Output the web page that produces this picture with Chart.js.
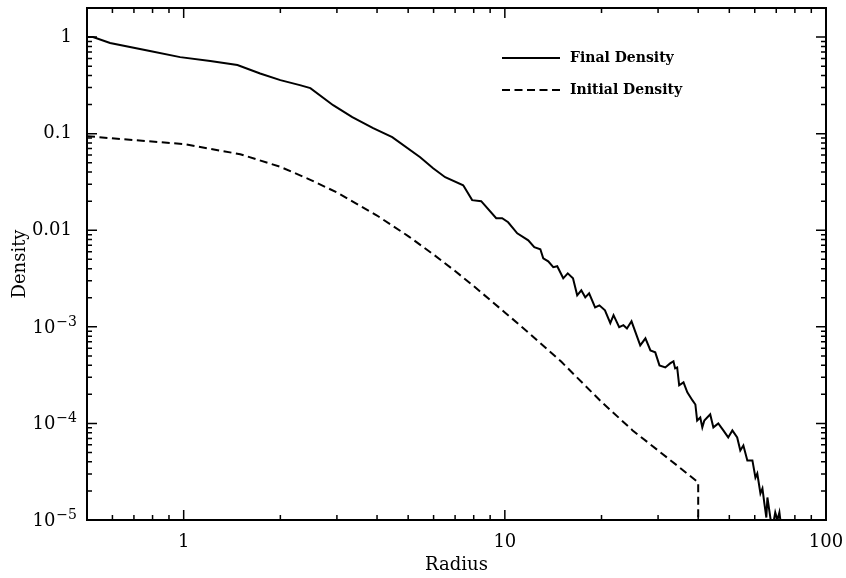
<!DOCTYPE html>
<html>
<head>
<meta charset="utf-8">
<script src="https://cdn.jsdelivr.net/npm/chart.js@4.4.1/dist/chart.umd.min.js"></script>
<style>
html,body{margin:0;padding:0;background:#fff;}
canvas{display:block;}
</style>
</head>
<body>
<canvas id="grafico" width="846" height="578"></canvas>
<script>
// ------------------- DADOS -------------------
const finalRadius = [0.5, 0.522, 0.59, 0.785, 0.975, 1.21, 1.47, 1.73, 2.0, 2.3,
  2.48, 2.92, 3.35, 3.89, 4.46, 5.45, 5.98, 6.52, 7.42, 7.91,
  8.44, 9.4, 9.81, 10.24, 10.93, 11.83, 12.35, 12.9, 13.17, 13.65,
  14.15, 14.56, 15.2, 15.7, 16.3, 16.8, 17.3, 17.8, 18.3, 19.1,
  19.7, 20.5, 21.3, 21.8, 22.7, 23.4, 24.0, 24.8, 26.4, 27.4,
  28.4, 29.4, 30.3, 31.6, 32.7, 33.5, 33.9, 34.4, 34.9, 36.0,
  37.0, 38.4, 39.2, 39.7, 40.6, 41.2, 41.8, 43.6, 44.6, 46.2,
  47.9, 49.6, 51.1, 52.9, 54.1, 55.3, 56.9, 59.0, 60.3, 61.1,
  62.5, 63.4, 64.3, 65.2, 65.7, 67.1, 68.0, 69.5, 70.6, 71.6, 72.7];
const finalDensity = [1.0, 1.0, 0.867, 0.716, 0.62, 0.564, 0.513, 0.42, 0.358, 0.318,
  0.296, 0.197, 0.148, 0.114, 0.092, 0.057, 0.0439, 0.0354, 0.0292, 0.0205,
  0.020, 0.0133, 0.0133, 0.0121, 0.0093, 0.00787, 0.00667, 0.00635, 0.00513, 0.00477,
  0.00414, 0.00424, 0.00318, 0.00358, 0.00318, 0.00212, 0.00239, 0.00202, 0.00222, 0.00159,
  0.00167, 0.00148, 0.00109, 0.00132, 9.9e-4, 1.04e-3, 9.6e-4, 1.14e-3, 6.43e-4, 7.6e-4,
  5.7e-4, 5.44e-4, 3.99e-4, 3.8e-4, 4.18e-4, 4.39e-4, 3.71e-4, 3.8e-4, 2.48e-4, 2.66e-4,
  2.1e-4, 1.73e-4, 1.57e-4, 1.07e-4, 1.15e-4, 9.1e-5, 1.07e-4, 1.24e-4, 9.1e-5, 1.0e-4,
  8.46e-5, 7.16e-5, 8.46e-5, 7.16e-5, 5.25e-5, 5.9e-5, 4.14e-5, 4.14e-5, 2.75e-5, 3.03e-5,
  1.88e-5, 2.12e-5, 1.48e-5, 1.06e-5, 1.71e-5, 1.06e-5, 8e-6, 1.2e-5, 1.0e-5, 1.2e-5, 8e-6];

const initialRadius = [0.5, 0.7, 1, 1.5, 2, 2.5, 3, 3.5, 4, 5, 6, 7, 8, 10, 12, 15, 20, 25, 30, 35, 40, 40];
const initialDensity = [0.0942, 0.0857, 0.078, 0.0613, 0.0453, 0.0329, 0.0246, 0.0183, 0.0142, 0.0087,
  0.0056, 0.00378, 0.00264, 0.00141, 8.4e-4, 4.34e-4, 1.67e-4, 8.46e-5, 5.25e-5, 3.5e-5, 2.45e-5, 1e-5];

const xTicks = [1, 10, 100];
const xTickLabels = ['1', '10', '100'];
const yTicks = [1e-5, 1e-4, 1e-3, 0.01, 0.1, 1];
const yTickLabels = ['10^\u22125', '10^\u22124', '10^\u22123', '0.01', '0.1', '1'];

const serif = '"DejaVu Serif", "Liberation Serif", serif';

function pontos(xs, ys){
  return xs.map((x, i) => ({x: x, y: ys[i]}));
}

// ------------------- MOLDURA, TICKS INTERNOS E RÓTULOS Y -------------------
const moldura = {
  id: 'moldura',
  afterDraw(chart){
    const {ctx, chartArea: a, scales: {x, y}} = chart;
    ctx.save();
    ctx.strokeStyle = '#000';
    ctx.lineWidth = 1.5;
    ctx.beginPath();
    for(let d = -1; d <= 2; d++){
      for(let m = 1; m <= 9; m++){
        const v = m * Math.pow(10, d);
        if(v < x.min * 0.999 || v > x.max * 1.001) continue;
        const px = x.getPixelForValue(v);
        const len = m === 1 ? 10 : 5;
        ctx.moveTo(px, a.bottom); ctx.lineTo(px, a.bottom - len);
        ctx.moveTo(px, a.top); ctx.lineTo(px, a.top + len);
      }
    }
    for(let d = -5; d <= 0; d++){
      for(let m = 1; m <= 9; m++){
        const v = m * Math.pow(10, d);
        if(v < y.min * 0.999 || v > y.max * 1.001) continue;
        const py = y.getPixelForValue(v);
        const len = m === 1 ? 10 : 5;
        ctx.moveTo(a.left, py); ctx.lineTo(a.left + len, py);
        ctx.moveTo(a.right, py); ctx.lineTo(a.right - len, py);
      }
    }
    ctx.stroke();
    ctx.lineWidth = 2;
    ctx.strokeRect(a.left, a.top, a.width, a.height);

    // rótulos do eixo y com expoente
    ctx.fillStyle = '#000';
    const direita = a.left - 13;
    yTicks.forEach((v, i) => {
      const py = y.getPixelForValue(v);
      const partes = yTickLabels[i].split('^');
      ctx.font = '18px ' + serif;
      ctx.textBaseline = 'middle';
      if(partes.length === 1){
        ctx.textAlign = 'right';
        ctx.fillText(partes[0], direita - 2, py);
      }else{
        ctx.font = '14px ' + serif;
        const wExp = ctx.measureText(partes[1]).width;
        ctx.textAlign = 'right';
        ctx.textBaseline = 'alphabetic';
        ctx.fillText(partes[1], direita + 3, py - 1);
        ctx.font = '18px ' + serif;
        ctx.textBaseline = 'middle';
        ctx.fillText(partes[0], direita + 3 - wExp - 1, py + 1);
      }
    });
    ctx.restore();
  }
};

// ------------------- LEGENDA -------------------
const legenda = {
  id: 'legenda',
  afterDraw(chart){
    const ctx = chart.ctx;
    chart.data.datasets.forEach((ds, i) => {
      const y = 58 + i * 32;
      ctx.save();
      ctx.strokeStyle = ds.borderColor;
      ctx.lineWidth = 2;
      ctx.setLineDash(ds.borderDash || []);
      ctx.beginPath();
      ctx.moveTo(502, y);
      ctx.lineTo(560, y);
      ctx.stroke();
      ctx.setLineDash([]);
      ctx.fillStyle = '#000';
      ctx.font = 'bold 14px ' + serif;
      ctx.textBaseline = 'middle';
      ctx.fillText(ds.label, 570, y);
      ctx.restore();
    });
  }
};

new Chart(document.getElementById('grafico'), {
  type: 'line',
  data: {
    datasets: [
      {label: 'Final Density', data: pontos(finalRadius, finalDensity),
       borderColor: '#000', borderWidth: 2, pointRadius: 0, tension: 0, fill: false},
      {label: 'Initial Density', data: pontos(initialRadius, initialDensity),
       borderColor: '#000', borderWidth: 2, borderDash: [8, 4.5], pointRadius: 0, tension: 0, fill: false}
    ]
  },
  options: {
    responsive: false,
    animation: false,
    devicePixelRatio: 1,
    layout: {padding: {top: 8, right: 20, left: 0, bottom: 0}},
    plugins: {legend: {display: false}, tooltip: {enabled: false}},
    scales: {
      x: {
        type: 'logarithmic', min: 0.5, max: 100, position: 'bottom',
        afterBuildTicks: s => { s.ticks = xTicks.map(v => ({value: v})); },
        afterFit: s => { s.height = 58; s.paddingLeft = 0; s.paddingRight = 0; },
        grid: {display: false, drawTicks: false},
        border: {display: false},
        ticks: {
          callback: (v, i) => xTickLabels[i],
          font: {family: serif, size: 18}, color: '#000',
          padding: 12, maxRotation: 0, autoSkip: false
        },
        title: {display: true, text: 'Radius', font: {family: serif, size: 18}, color: '#000',
                padding: {top: 0, bottom: 2}}
      },
      y: {
        type: 'logarithmic', min: 1e-5, max: 2, position: 'left',
        afterBuildTicks: s => { s.ticks = yTicks.map(v => ({value: v})); },
        afterFit: s => { s.width = 87; s.paddingTop = 0; s.paddingBottom = 0; },
        grid: {display: false, drawTicks: false},
        border: {display: false},
        ticks: {display: false},
        title: {display: true, text: 'Density', font: {family: serif, size: 18}, color: '#000',
                padding: {top: 10, bottom: 0}}
      }
    }
  },
  plugins: [moldura, legenda]
});
</script>
</body>
</html>
